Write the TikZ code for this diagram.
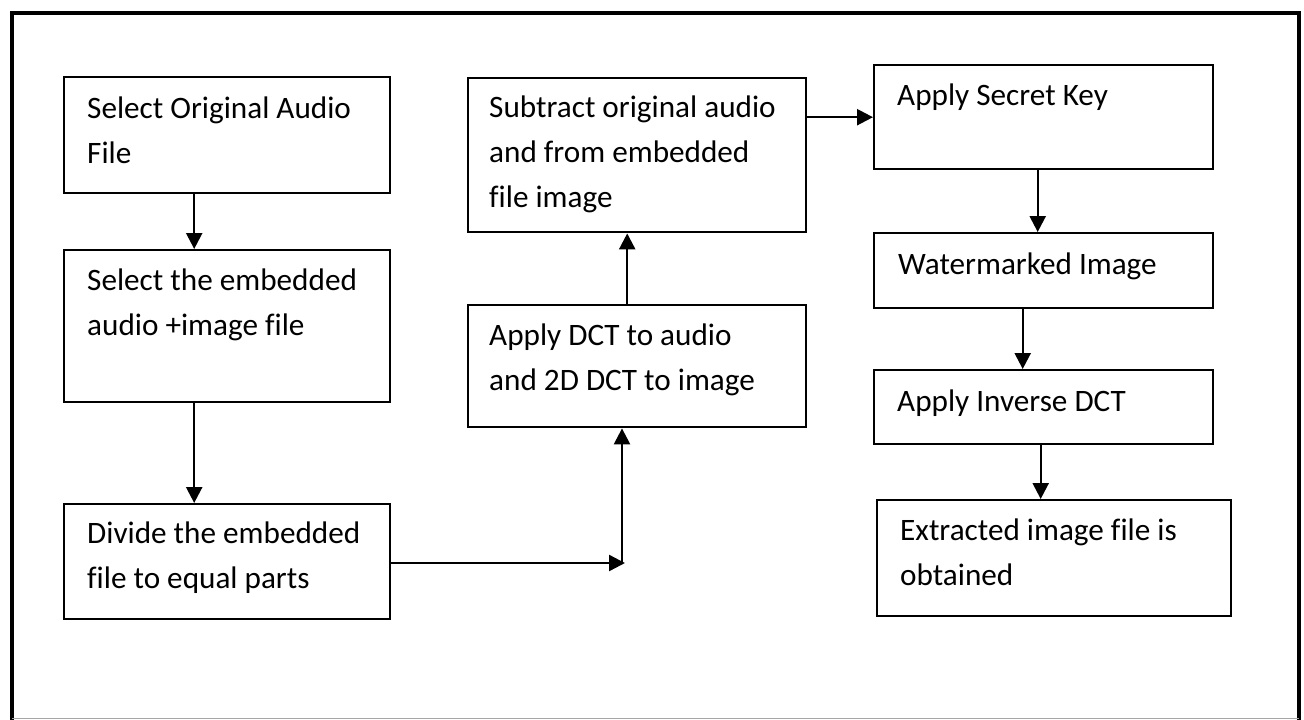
\documentclass[tikz,border=0pt]{standalone}
\usepackage{fontspec}
\setmainfont{Carlito}[Ligatures=NoCommon]
\usetikzlibrary{arrows.meta}
\tikzset{
  box/.style={draw=black, line width=2.4pt, rectangle, inner sep=0pt, anchor=north west},
  txt/.style={anchor=north west, inner sep=0pt, align=left, text=black,
    font=\fontsize{31.2}{45}\selectfont},
  arr/.style={line width=2.4pt, -{Triangle[length=16pt,width=16pt]}},
  frame/.style={line width=4.5pt, line cap=rect}
}
\begin{document}
\begin{tikzpicture}[x=1pt,y=-1pt]
\useasboundingbox (0,0) rectangle (1304,720);
\fill[white] (0,0) rectangle (1304,720);
% outer frame
\draw[frame] (12,720) -- (12,13) -- (1299,13) -- (1299,720);
\draw[gray!70, line width=1.5pt] (12,718.5) -- (1299,718.5);
% boxes
\node[box, minimum width=326pt, minimum height=116pt] (b1) at (63,76) {};
\node[box, minimum width=326pt, minimum height=152pt] (b2) at (63,249) {};
\node[box, minimum width=326pt, minimum height=115pt] (b3) at (63,503) {};
\node[box, minimum width=338pt, minimum height=122pt] (b4) at (467,304) {};
\node[box, minimum width=338pt, minimum height=154pt] (b5) at (467,77) {};
\node[box, minimum width=339pt, minimum height=104pt] (b6) at (873,64) {};
\node[box, minimum width=339pt, minimum height=75pt] (b7) at (873,232) {};
\node[box, minimum width=339pt, minimum height=74pt] (b8) at (873,369) {};
\node[box, minimum width=354pt, minimum height=116pt] (b9) at (876,499) {};
% texts
\node[txt] (t1) at ([xshift=24pt,yshift=-10.5pt]b1.north west) {\strut Select Original Audio\\\strut File};
\node[txt] (t2) at ([xshift=24pt,yshift=-9.5pt]b2.north west) {\strut Select the embedded\\\strut audio +image file};
\node[txt] (t3) at ([xshift=24pt,yshift=-8.5pt]b3.north west) {\strut Divide the embedded\\\strut file to equal parts};
\node[txt] (t4) at ([xshift=22pt,yshift=-10pt]b4.north west) {\strut Apply DCT to audio\\\strut and 2D DCT to image};
\node[txt] (t5) at ([xshift=22pt,yshift=-8.5pt]b5.north west) {\strut Subtract original audio\\\strut and from embedded\\\strut file image};
\node[txt] (t6) at ([xshift=24pt,yshift=-9.5pt]b6.north west) {\strut Apply Secret Key};
\node[txt] (t7) at ([xshift=25pt,yshift=-11pt]b7.north west) {\strut Watermarked Image};
\node[txt] (t8) at ([xshift=24pt,yshift=-11pt]b8.north west) {\strut Apply Inverse DCT};
\node[txt] (t9) at ([xshift=24pt,yshift=-9.5pt]b9.north west) {\strut Extracted image file is\\\strut obtained};
% connectors
\coordinate (c) at (622,563);
\draw[arr] ([xshift=-33pt]b1.south) -- ([xshift=-33pt]b2.north);
\draw[arr] ([xshift=-33pt]b2.south) -- ([xshift=-33pt]b3.north);
\draw[arr] (b3.east |- c) -- ([xshift=3pt]c);
\draw[arr] (c) -- (c |- b4.south);
\draw[arr] ([xshift=-10pt]b4.north) -- ([xshift=-10pt]b5.south);
\draw[arr] (b5.east |- b6.west) -- (b6.west);
\draw[arr] ([xshift=-6pt]b6.south) -- ([xshift=-6pt]b7.north);
\draw[arr] ([xshift=-21pt]b7.south) -- ([xshift=-21pt]b8.north);
\draw[arr] ([xshift=-3pt]b8.south) -- ([xshift=-3pt]b8.south |- b9.north);
\end{tikzpicture}
\end{document}
